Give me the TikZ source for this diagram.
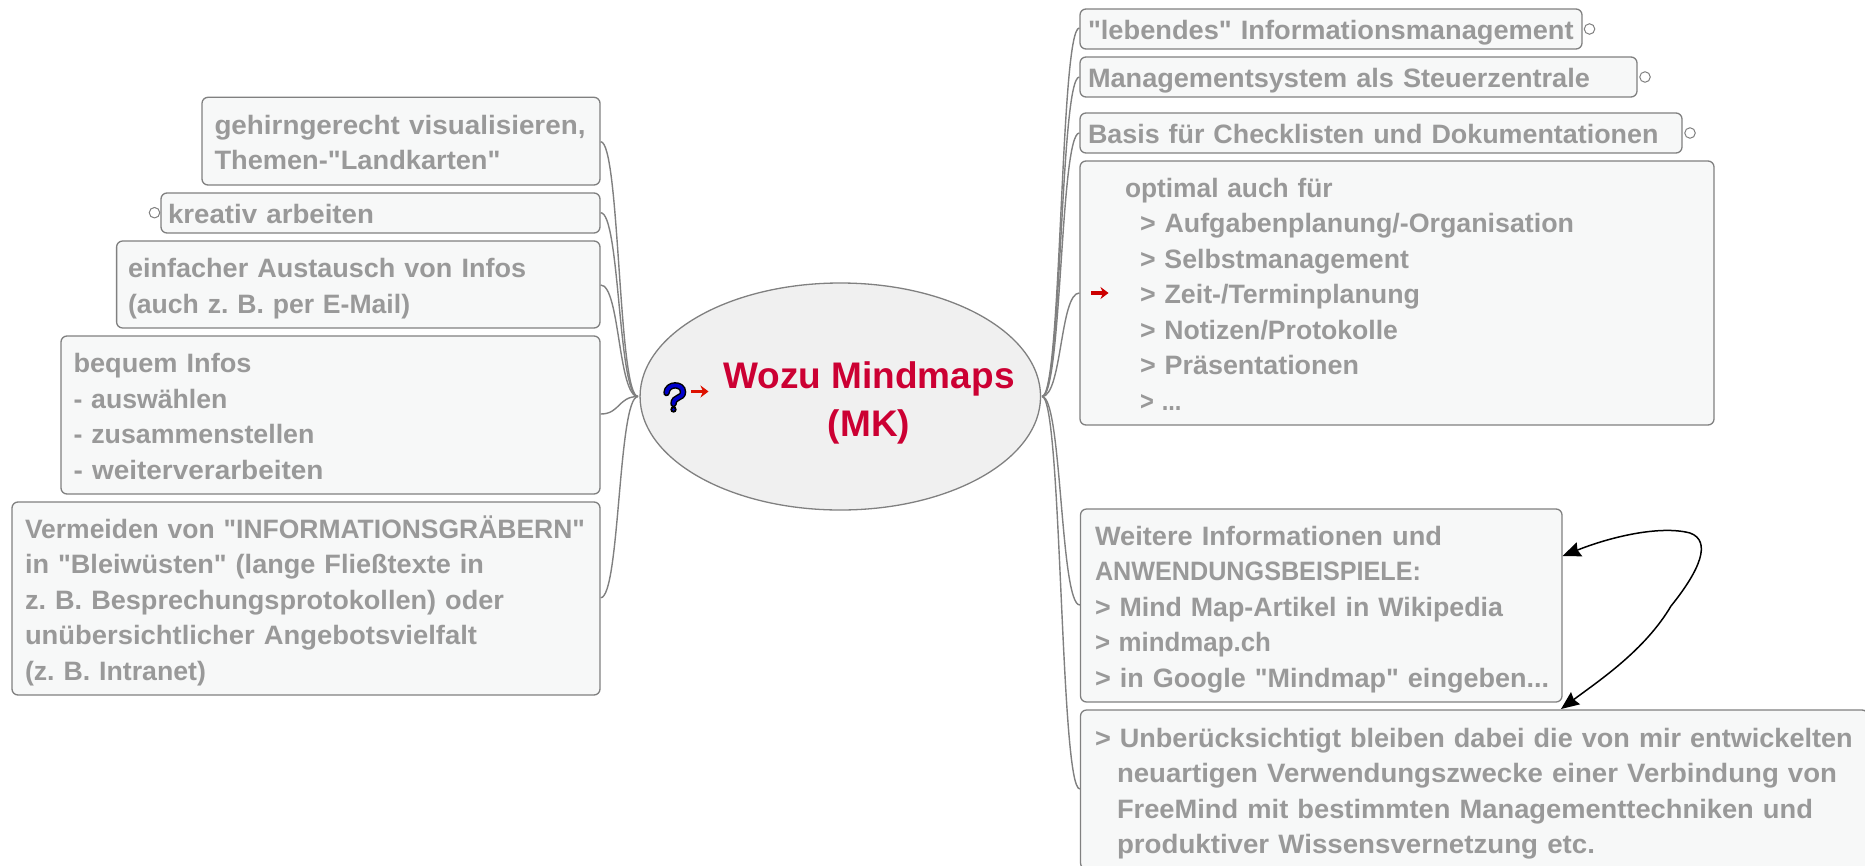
\documentclass[tikz,border=0pt]{standalone}
\usepackage{fontspec}
\usepackage{graphicx}
\newfontfamily\plainf{Liberation Sans}
\usetikzlibrary{arrows.meta,shapes.geometric}
\definecolor{boxfill}{HTML}{F7F8F8}
\definecolor{boxline}{HTML}{808080}
\definecolor{boxtext}{HTML}{999999}
\definecolor{rootfill}{HTML}{F0F0F0}
\definecolor{roottext}{HTML}{CC0033}
\definecolor{iconred}{HTML}{DD1100}
\definecolor{iconblue}{HTML}{0000CC}
\newcommand\ls{\rule[-6.8pt]{0pt}{35.5pt}}
\newcommand\ind{\hspace*{22pt}}
\newsavebox\flbox
% one line of text, fitted to its width in the reference
\newcommand\fl[2]{\sbox\flbox{#2}\pgfmathsetmacro\flr{#1/(\the\wd\flbox)}\scalebox{\flr}[1]{\usebox\flbox}}
\tikzset{
  textbox/.style={draw=boxline,fill=boxfill,line width=1.3pt,rounded corners=6pt,rectangle,
    inner ysep=0pt,anchor=center,align=left,text=boxtext,
    font=\plainf\fontsize{26.6}{35.5}\selectfont\bfseries\frenchspacing},
  branch/.style={draw=boxline,line width=1.4pt},
  fold/.style={circle,draw=boxline,fill=white,line width=1pt,minimum size=10.5pt,inner sep=0pt},
  linkarrow/.style={draw=black,line width=1.5pt},
  linktip/.style={-{Stealth[length=18pt,width=15pt,inset=2pt]}},
  linktipback/.style={{Stealth[length=18pt,width=15pt,inset=2pt]}-},
  redarrow/.style={line width=3.2pt,-{Stealth[length=8pt,width=12pt,inset=2.5pt]}},
}
\newcommand\bx[7]{%
  \pgfmathsetmacro\bxw{#4-#2}\pgfmathsetmacro\bxh{#5-#3}\pgfmathsetmacro\bxt{#4-#2-2*#6}
  \node[textbox,minimum width=\bxw pt,minimum height=\bxh pt,text width=\bxt pt,inner xsep=#6 pt]
    (#1) at ({(#2+#4)/2},{(#3+#5)/2}) {\rightskip=-300pt plus 1fil\relax #7};
}
\begin{document}
\begin{tikzpicture}[x=1pt,y=-1pt]
\useasboundingbox (0,0) rectangle (1865,865);
\clip (0,0) rectangle (1865,865);
% anchor points
\coordinate (rr) at (1042,396.5);
\coordinate (rl) at (638,396.5);
% boxes right
\bx{b1}{1080}{9}{1582}{49}{8}{\ls\fl{485.7}{"lebendes" Informationsmanagement}\ls}
\bx{b2}{1080}{57}{1637}{97}{8}{\ls\fl{502}{Managementsystem als Steuerzentrale}\ls}
\bx{b3}{1080}{113}{1682}{153}{8}{\ls\fl{570.5}{Basis für Checklisten und Dokumentationen}\ls}
\bx{b4}{1080}{161}{1714}{425}{45}{\ls\fl{207.6}{optimal auch für}\\
\hspace*{15pt}\fl{434}{> Aufgabenplanung/-Organisation}\\
\hspace*{15pt}\fl{269}{> Selbstmanagement}\\
\hspace*{15pt}\fl{280}{> Zeit-/Terminplanung}\\
\hspace*{15pt}\fl{258}{> Notizen/Protokolle}\\
\hspace*{15pt}\fl{219}{> Präsentationen}\\
\hspace*{15pt}\fl{41.5}{> ...}\ls}
\bx{b5}{1080.5}{509}{1562}{702}{14.5}{\ls\fl{347}{Weitere Informationen und}\\
\fl{326}{ANWENDUNGSBEISPIELE:}\\
\fl{408}{> Mind Map-Artikel in Wikipedia}\\
\fl{176}{> mindmap.ch}\\
\fl{454}{> in Google "Mindmap" eingeben...}\ls}
\bx{b6}{1080.5}{710}{1868}{869}{14.5}{\ls\fl{757.7}{> Unberücksichtigt bleiben dabei die von mir entwickelten}\\
\ind\fl{720}{neuartigen Verwendungszwecke einer Verbindung von}\\
\ind\fl{696}{FreeMind mit bestimmten Managementtechniken und}\\
\ind\fl{478}{produktiver Wissensvernetzung etc.}\ls}
% boxes left
\bx{l1}{202}{97.3}{600}{185}{12.5}{\ls\fl{371}{gehirngerecht visualisieren,}\\ \fl{286}{Themen-"Landkarten"}\ls}
\bx{l2}{161}{193}{600}{233}{7}{\ls\fl{206}{kreativ arbeiten}\ls}
\bx{l3}{116.6}{241}{600}{328}{11.5}{\ls\fl{398}{einfacher Austausch von Infos}\\ \fl{282}{(auch z. B. per E-Mail)}\ls}
\bx{l4}{61}{336}{600}{494}{12.5}{\ls\fl{178}{bequem Infos}\\ \fl{154}{- auswählen}\\ \fl{241}{- zusammenstellen}\\ \fl{250}{- weiterverarbeiten}\ls}
\bx{l5}{12}{502}{600}{695}{13}{\ls\fl{560}{Vermeiden von "INFORMATIONSGRÄBERN"}\\
\fl{459}{in "Bleiwüsten" (lange Fließtexte in}\\
\fl{479}{z. B. Besprechungsprotokollen) oder}\\
\fl{452}{unübersichtlicher Angebotsvielfalt}\\
\fl{181}{(z. B. Intranet)}\ls}
% connectors
\foreach \n/\y in {b1/28,b2/77,b3/133,b4/293,b5/605,b6/789}{
  \draw[branch] (rr) .. controls +(20,0) and (1060,\y) .. (\n.west |- 0,\y);
}
\foreach \n/\y in {l1/141.7,l2/212.7,l3/285,l4/414,l5/597.7}{
  \draw[branch] (rl) .. controls +(-20,0) and (620,\y) .. (\n.east |- 0,\y);
}
% root
\node[ellipse,draw=boxline,fill=rootfill,line width=1.3pt,minimum width=400.5pt,minimum height=227pt,inner sep=0pt] (root) at (840.3,396.5) {};
\node[anchor=base,align=center,text=roottext,font=\plainf\fontsize{37}{48}\selectfont\bfseries] (title) at (869,436) {Wozu Mindmaps\\(MK)};
% question icon
\coordinate (q1) at (666.5,393);
\coordinate (q2) at (683,392);
\coordinate (q3) at (673.5,404);
\coordinate (qd) at (673.5,409.5);
\draw[black,line width=6.5pt,line cap=round] (q1) .. controls (667,383) and (683,383) .. (q2) .. controls (683,399) and (673.5,396) .. (q3);
\fill[black] (qd) circle (3.2);
\draw[iconblue,line width=3.6pt,line cap=round] (q1) .. controls (667,383) and (683,383) .. (q2) .. controls (683,399) and (673.5,396) .. (q3);
\fill[iconblue] (qd) circle (1.4);
% red arrows
\coordinate (ra1) at (691,391.5); \coordinate (ra2) at (708.5,391.5);
\draw[redarrow,color=iconred] (ra1) -- (ra2);
\coordinate (rb1) at (1091,293); \coordinate (rb2) at (1108.5,293);
\draw[redarrow,color=red!80!black] (rb1) -- (rb2);
% fold marks
\node[fold] (f1) at (1589.5,29) {};
\node[fold] (f2) at (1645,77) {};
\node[fold] (f3) at (1690,133) {};
\node[fold] (f4) at (154.5,212.7) {};
% link arrows
\coordinate (k1) at (1690,533);
\coordinate (k2) at (1671,606);
\draw[linkarrow,linktipback] (b5.east |- 0,556) .. controls (1610,537) and (1660,525) .. (k1)
   .. controls (1712,541) and (1700,570) .. (k2);
\draw[linkarrow,linktip] (k2) .. controls (1645,650) and (1600,680) .. (1561,709);
\end{tikzpicture}
\end{document}
